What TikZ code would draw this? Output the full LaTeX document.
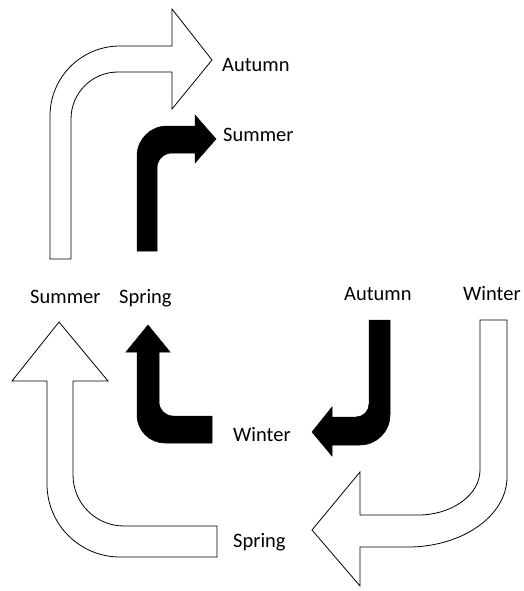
\documentclass[tikz,border=0pt]{standalone}
\usepackage{fontspec}
\setmainfont{Carlito}
\begin{document}
\begin{tikzpicture}[x=1pt,y=-1pt,
  hollow/.style={draw=black,fill=white,line width=0.8pt,line join=miter},
  solid/.style={draw=black,fill=black,line width=0.5pt,line join=miter},
  season/.style={inner sep=0pt,anchor=base west,font=\fontsize{20.5}{24}\selectfont}]
\useasboundingbox (0,0) rectangle (523,591);
% top white arrow
\path[hollow] (50,259) -- (50,116) .. controls (50,77.3) and (81.3,46) .. (120,46)
  -- (172,46) -- (172,9) -- (212,60) -- (172,109) -- (172,72) -- (118,72)
  .. controls (92,72) and (71,93) .. (71,119) -- (71,259) -- cycle;
% top black arrow
\path[solid] (137,251) -- (137,156) .. controls (137,139.4) and (150.4,126) .. (167,126)
  -- (195,126) -- (195,115) -- (216,139) -- (195,163) -- (195,153) -- (172,153)
  .. controls (163.7,153) and (157,159.7) .. (157,168) -- (157,251) -- cycle;
% bottom-left white arrow
\path[hollow] (59,322) -- (108,381) -- (73,381) -- (73,475)
  .. controls (73,503.2) and (95.8,526) .. (124,526) -- (217,526) -- (217,557) -- (120,557)
  .. controls (79.7,557) and (47,524.3) .. (47,484) -- (47,381) -- (12,381) -- cycle;
% bottom-left black arrow
\path[solid] (148,325) -- (170,352) -- (159,352) -- (159,402)
  .. controls (159,409.7) and (165.3,416) .. (173,416) -- (212,416) -- (212,443) -- (165,443)
  .. controls (149.5,443) and (137,430.5) .. (137,415) -- (137,352) -- (126,352) -- cycle;
% bottom-right black arrow
\path[solid] (369,320) -- (390,320) -- (390,415)
  .. controls (390,431.6) and (376.6,445) .. (360,445) -- (332,445) -- (332,456)
  -- (312,432) -- (332,407) -- (332,417) -- (356,417)
  .. controls (363.2,417) and (369,411.2) .. (369,404) -- cycle;
% bottom-right white arrow
\path[hollow] (480,320) -- (507,320) -- (507,477)
  .. controls (507,515.6) and (462.6,547) .. (408,547) -- (360,547) -- (360,586)
  -- (312,530) -- (360,472) -- (360,515) -- (418,515)
  .. controls (452.2,515) and (480,494.8) .. (480,470) -- cycle;
% labels
\node[season] (autumnTop) at (222,72) {Autumn};
\node[season] (summerTop) at (223,141) {Summer};
\node[season] (summerLeft) at (30,303) {Summer};
\node[season] (springLeft) at (119,303) {Spring};
\node[season] (autumnRight) at (344,300) {Autumn};
\node[season] (winterRight) at (463,300) {Winter};
\node[season] (winterMid) at (233,441) {Winter};
\node[season] (springBottom) at (233,547) {Spring};
\end{tikzpicture}
\end{document}
